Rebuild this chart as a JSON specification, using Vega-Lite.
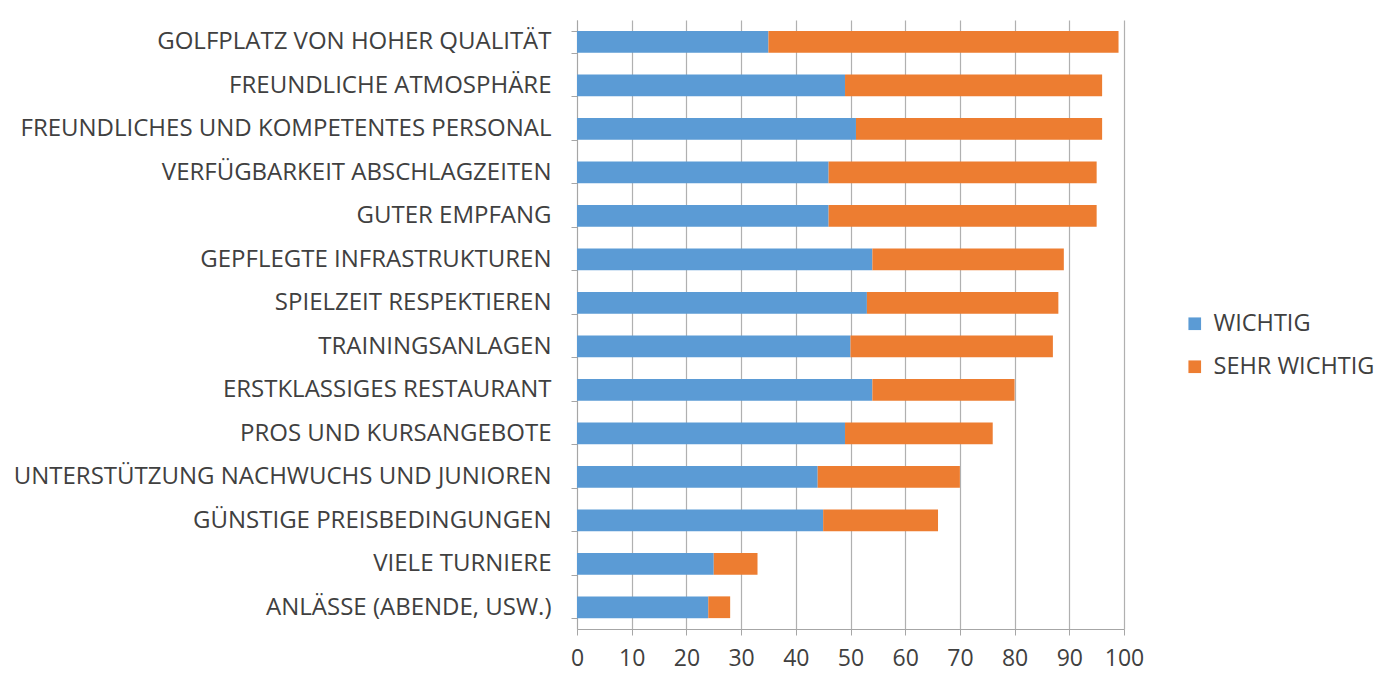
{
  "$schema": "https://vega.github.io/schema/vega-lite/v6.json",
  "autosize": "none",
  "width": 547,
  "height": 609,
  "padding": {"left": 577, "top": 20, "right": 270, "bottom": 50},
  "background": "white",
  "data": {"values": [
    {"k": "GOLFPLATZ VON HOHER QUALITÄT", "s": "WICHTIG", "v": 35, "o": 1},
    {"k": "GOLFPLATZ VON HOHER QUALITÄT", "s": "SEHR WICHTIG", "v": 64, "o": 2},
    {"k": "FREUNDLICHE ATMOSPHÄRE", "s": "WICHTIG", "v": 49, "o": 1},
    {"k": "FREUNDLICHE ATMOSPHÄRE", "s": "SEHR WICHTIG", "v": 47, "o": 2},
    {"k": "FREUNDLICHES UND KOMPETENTES PERSONAL", "s": "WICHTIG", "v": 51, "o": 1},
    {"k": "FREUNDLICHES UND KOMPETENTES PERSONAL", "s": "SEHR WICHTIG", "v": 45, "o": 2},
    {"k": "VERFÜGBARKEIT ABSCHLAGZEITEN", "s": "WICHTIG", "v": 46, "o": 1},
    {"k": "VERFÜGBARKEIT ABSCHLAGZEITEN", "s": "SEHR WICHTIG", "v": 49, "o": 2},
    {"k": "GUTER EMPFANG", "s": "WICHTIG", "v": 46, "o": 1},
    {"k": "GUTER EMPFANG", "s": "SEHR WICHTIG", "v": 49, "o": 2},
    {"k": "GEPFLEGTE INFRASTRUKTUREN", "s": "WICHTIG", "v": 54, "o": 1},
    {"k": "GEPFLEGTE INFRASTRUKTUREN", "s": "SEHR WICHTIG", "v": 35, "o": 2},
    {"k": "SPIELZEIT RESPEKTIEREN", "s": "WICHTIG", "v": 53, "o": 1},
    {"k": "SPIELZEIT RESPEKTIEREN", "s": "SEHR WICHTIG", "v": 35, "o": 2},
    {"k": "TRAININGSANLAGEN", "s": "WICHTIG", "v": 50, "o": 1},
    {"k": "TRAININGSANLAGEN", "s": "SEHR WICHTIG", "v": 37, "o": 2},
    {"k": "ERSTKLASSIGES RESTAURANT", "s": "WICHTIG", "v": 54, "o": 1},
    {"k": "ERSTKLASSIGES RESTAURANT", "s": "SEHR WICHTIG", "v": 26, "o": 2},
    {"k": "PROS UND KURSANGEBOTE", "s": "WICHTIG", "v": 49, "o": 1},
    {"k": "PROS UND KURSANGEBOTE", "s": "SEHR WICHTIG", "v": 27, "o": 2},
    {"k": "UNTERSTÜTZUNG NACHWUCHS UND JUNIOREN", "s": "WICHTIG", "v": 44, "o": 1},
    {"k": "UNTERSTÜTZUNG NACHWUCHS UND JUNIOREN", "s": "SEHR WICHTIG", "v": 26, "o": 2},
    {"k": "GÜNSTIGE PREISBEDINGUNGEN", "s": "WICHTIG", "v": 45, "o": 1},
    {"k": "GÜNSTIGE PREISBEDINGUNGEN", "s": "SEHR WICHTIG", "v": 21, "o": 2},
    {"k": "VIELE TURNIERE", "s": "WICHTIG", "v": 25, "o": 1},
    {"k": "VIELE TURNIERE", "s": "SEHR WICHTIG", "v": 8, "o": 2},
    {"k": "ANLÄSSE (ABENDE, USW.)", "s": "WICHTIG", "v": 24, "o": 1},
    {"k": "ANLÄSSE (ABENDE, USW.)", "s": "SEHR WICHTIG", "v": 4, "o": 2}
  ]},
  "mark": {"type": "bar"},
  "encoding": {
    "y": {
      "field": "k", "type": "nominal", "sort": null, "title": null,
      "scale": {"paddingInner": 0.5, "paddingOuter": 0.25},
      "axis": {
        "labelFont": "Open Sans", "labelFontSize": 24, "labelColor": "#404040",
        "labelPadding": 20, "tickBand": "extent", "tickSize": 6,
        "domainColor": "#A6A6A6", "tickColor": "#A6A6A6", "labelLimit": 700
      }
    },
    "x": {
      "field": "v", "type": "quantitative", "stack": "zero", "title": null,
      "scale": {"domain": [0, 100], "nice": false},
      "axis": {
        "values": [0, 10, 20, 30, 40, 50, 60, 70, 80, 90, 100],
        "labelFont": "Open Sans", "labelFontSize": 23, "labelColor": "#404040",
        "labelPadding": 12, "tickSize": 6, "labelFlush": false, "labelOverlap": false, "labelBound": false,
        "domainColor": "#A6A6A6", "tickColor": "#A6A6A6",
        "gridColor": "#B0B0B0", "gridWidth": 1.2
      }
    },
    "color": {
      "field": "s", "type": "nominal", "title": null,
      "scale": {"domain": ["WICHTIG", "SEHR WICHTIG"], "range": ["#5B9BD5", "#ED7D31"]},
      "legend": {
        "orient": "none", "legendX": 606, "legendY": 292,
        "labelFont": "Open Sans", "labelFontSize": 23.5, "labelColor": "#404040", "labelLimit": 400,
        "symbolType": "square", "symbolSize": 160, "symbolStrokeWidth": 0,
        "rowPadding": 18, "labelOffset": 7
      }
    },
    "order": {"field": "o", "type": "quantitative"}
  },
  "config": {"view": {"stroke": null}}
}
